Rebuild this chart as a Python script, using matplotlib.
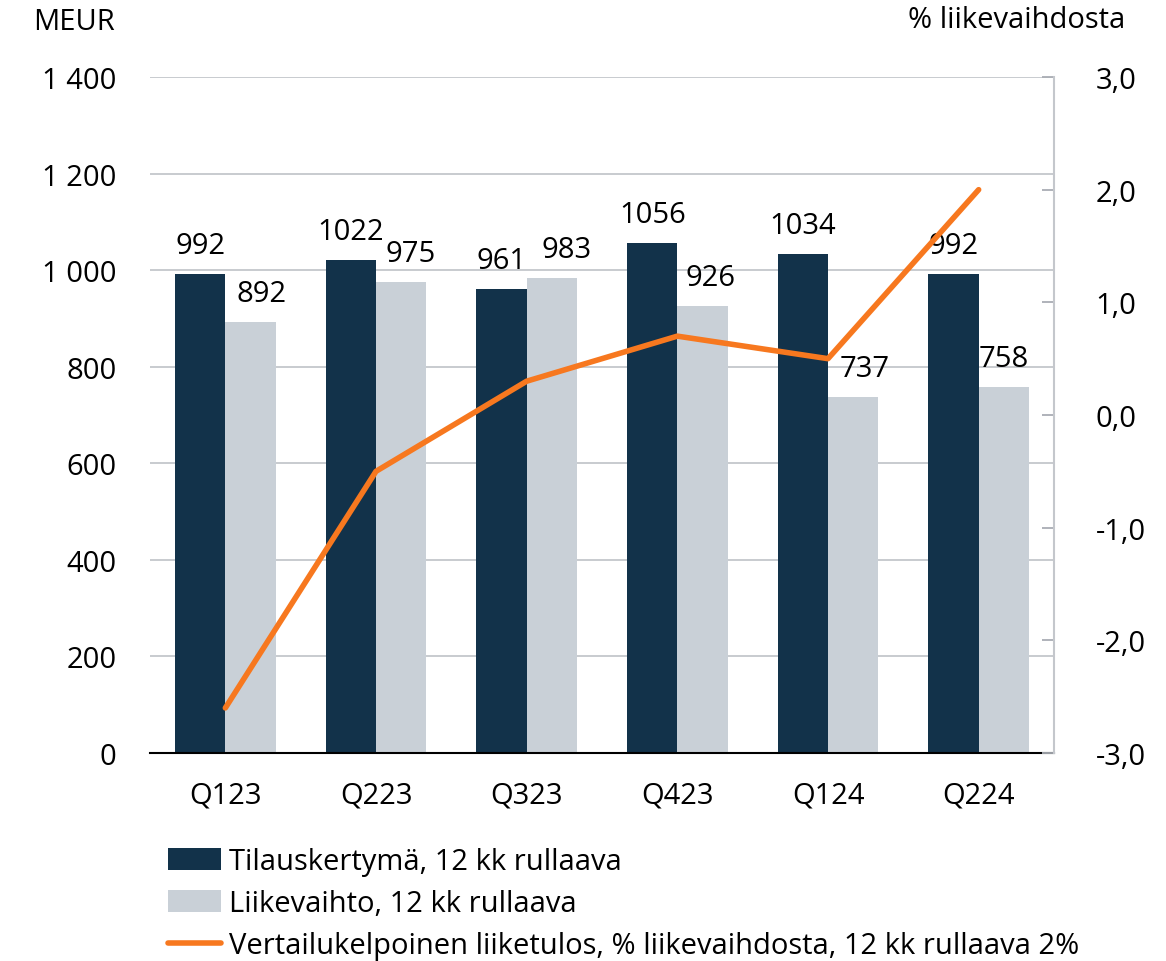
import matplotlib.pyplot as plt
import numpy as np

quarters = ["Q123", "Q223", "Q323", "Q423", "Q124", "Q224"]
orders = [992, 1022, 961, 1056, 1034, 992]
sales = [892, 975, 983, 926, 737, 758]
margin = [-2.6, -0.5, 0.3, 0.7, 0.5, 2.0]

left_ticks = [0, 200, 400, 600, 800, 1000, 1200, 1400]
right_ticks = [-3, -2, -1, 0, 1, 2, 3]

DARK = "#12324a"
LIGHT = "#c9d0d7"
ORANGE = "#f7781f"
GRID = "#c4c7cc"
FS = 21

plt.rcParams["font.family"] = ["Open Sans", "DejaVu Sans"]
plt.rcParams["font.size"] = FS

fig = plt.figure(figsize=(11.66, 9.62), dpi=100)
ax = fig.add_axes([150 / 1166, 1 - 754 / 962, 904 / 1166, 676 / 962])
x = np.arange(len(quarters))
w = 0.333

b1 = ax.bar(x - w / 2, orders, w, color=DARK, label="Tilauskertymä, 12 kk rullaava", zorder=2)
b2 = ax.bar(x + w / 2, sales, w, color=LIGHT, label="Liikevaihto, 12 kk rullaava", zorder=2)

# value labels; the light-bar labels sit slightly to the right in the original
light_dx = [8, 7, 11, 6, 8, 0]
for xi, v in zip(x, orders):
    ax.annotate(str(v), (xi - w / 2, v), xytext=(0, 10), textcoords="offset points",
                ha="center", va="bottom", fontsize=FS)
for xi, v, dx in zip(x, sales, light_dx):
    ax.annotate(str(v), (xi + w / 2, v), xytext=(dx, 10), textcoords="offset points",
                ha="center", va="bottom", fontsize=FS)

ax.set_xlim(-0.5, len(quarters) - 0.5)
ax.set_ylim(0, 1400)
ax.set_yticks(left_ticks)
ax.set_yticklabels([f"{v:,}".replace(",", " ") for v in left_ticks])
ax.set_xticks(x)
ax.set_xticklabels(quarters)
ax.tick_params(axis="y", length=0, pad=24)
ax.tick_params(axis="x", length=0, pad=20)
ax.grid(axis="y", color=GRID, linewidth=1.3, zorder=0)
ax.set_axisbelow(True)
for s in ["left", "right", "top"]:
    ax.spines[s].set_visible(False)
ax.spines["bottom"].set_color("black")
ax.spines["bottom"].set_linewidth(1.5)
ax.spines["bottom"].set_zorder(3)

ax2 = ax.twinx()
ln, = ax2.plot(x, margin, color=ORANGE, linewidth=4, solid_capstyle="round",
               label="Vertailukelpoinen liiketulos, % liikevaihdosta, 12 kk rullaava 2%", zorder=4)
ax2.set_ylim(-3, 3)
ax2.set_yticks(right_ticks)
ax2.set_yticklabels([f"{v:.1f}".replace(".", ",") for v in right_ticks])
ax2.tick_params(axis="y", direction="in", length=9, width=1.3, color="#a9adb4", pad=30)
for s in ["left", "top", "bottom"]:
    ax2.spines[s].set_visible(False)
ax2.spines["right"].set_color("#c4c7cc")
ax2.spines["right"].set_linewidth(1.5)

fig.text(33 / 1166, 1 - 22 / 962, "MEUR", fontsize=FS, va="center", ha="left")
fig.text(1125 / 1166, 1 - 20 / 962, "% liikevaihdosta", fontsize=FS, va="center", ha="right")

fig.legend(handles=[b1, b2, ln], loc="upper left", bbox_to_anchor=(168 / 1166, 1 - 848 / 962),
           frameon=False, fontsize=FS, handlelength=1.8, handleheight=0.75,
           handletextpad=0.28, labelspacing=0.45, borderaxespad=0, borderpad=0)

fig.savefig("out.png", dpi=100)
